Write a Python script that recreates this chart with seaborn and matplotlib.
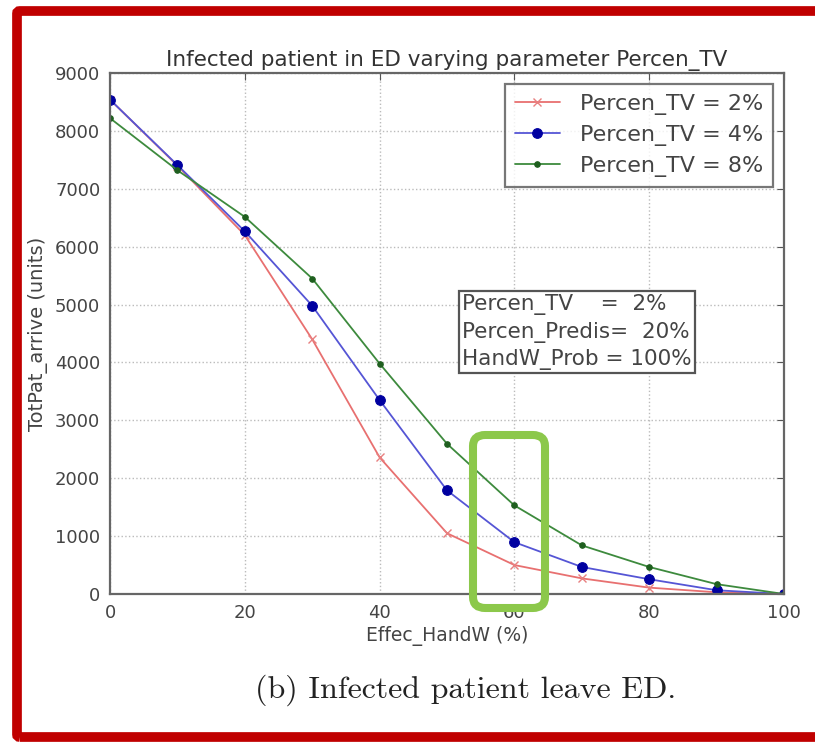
import numpy as np
import pandas as pd
import matplotlib
matplotlib.use("Agg")
import matplotlib.pyplot as plt
import seaborn as sns
from matplotlib.patches import FancyBboxPatch

effec_handw = [0, 10, 20, 30, 40, 50, 60, 70, 80, 90, 100]
tv_2 = [8540, 7400, 6200, 4400, 2360, 1050, 500, 270, 110, 30, 0]
tv_4 = [8540, 7410, 6265, 4980, 3350, 1790, 895, 467, 255, 65, 0]
tv_8 = [8220, 7320, 6515, 5450, 3980, 2595, 1530, 840, 467, 170, 0]
series_labels = ["Percen_TV = 2%", "Percen_TV = 4%", "Percen_TV = 8%"]

sns.set_style("white")
plt.rcParams["font.family"] = ["DejaVu Sans"]

fig = plt.figure(figsize=(8.15, 7.42), dpi=100)
ax = fig.add_axes([110 / 815, (742 - 594) / 742, 674 / 815, 521 / 742])

sns.lineplot(x=effec_handw, y=tv_2, ax=ax, color="#e87070", lw=1.3, marker="x",
             markersize=6, markeredgecolor="#e88080", markeredgewidth=1.0,
             label=series_labels[0])
sns.lineplot(x=effec_handw, y=tv_4, ax=ax, color="#5555d5", lw=1.3, marker="o",
             markersize=7, markerfacecolor="#0000a0", markeredgecolor="#0000a0",
             label=series_labels[1])
sns.lineplot(x=effec_handw, y=tv_8, ax=ax, color="#3d8a3d", lw=1.3, marker="o",
             markersize=4, markerfacecolor="#1f5f1f", markeredgecolor="#1f5f1f",
             label=series_labels[2])

ax.set_xlim(0, 100)
ax.set_ylim(0, 9000)
ax.set_xticks(range(0, 101, 20))
ax.set_yticks(range(0, 9001, 1000))
ax.tick_params(direction="in", length=5, top=True, right=True,
               labelsize=13, labelcolor="#444444", color="#555555", pad=7)
ax.grid(True, linestyle=":", color="#bbbbbb", lw=1)
for sp in ax.spines.values():
    sp.set_color("#666666")
    sp.set_linewidth(1.6)

ax.set_title("Infected patient in ED varying parameter Percen_TV",
             fontsize=15.5, color="#333333", pad=5)
ax.set_xlabel("Effec_HandW (%)", fontsize=13.5, color="#444444", labelpad=3)
ax.set_ylabel("TotPat_arrive (units)", fontsize=14, color="#444444", labelpad=5)

leg = ax.legend(loc="upper right", fontsize=16, frameon=True, fancybox=False,
                borderaxespad=0.5, handlelength=2.0, labelspacing=0.45,
                borderpad=0.45, handletextpad=0.9)
leg.get_frame().set_edgecolor("#555555")
leg.get_frame().set_linewidth(1.6)
for t in leg.get_texts():
    t.set_color("#444444")

ax.text(0.522, 0.575,
        "Percen_TV    =  2%\nPercen_Predis=  20%\nHandW_Prob = 100%",
        transform=ax.transAxes, fontsize=15.5, color="#444444", va="top",
        ha="left", linespacing=1.4,
        bbox=dict(facecolor="white", edgecolor="#555555", lw=1.6,
                  boxstyle="square,pad=0.15"))

fig.text(466 / 815, 1 - 690 / 742, "(b) Infected patient leave ED.",
         fontsize=23, family="cmr10", ha="center", va="center", color="#222222")

fig.patches.append(FancyBboxPatch((473 / 815, 134 / 742), 72 / 815, 173 / 742,
                                  boxstyle="round,pad=0,rounding_size=0.015",
                                  transform=fig.transFigure, fill=False,
                                  edgecolor="#8cc84b", lw=5.8, zorder=10))
fig.patches.append(FancyBboxPatch((17 / 815, 5 / 742), 1.1, 726 / 742,
                                  boxstyle="round,pad=0,rounding_size=0.0035",
                                  transform=fig.transFigure, fill=False,
                                  edgecolor="#c00000", lw=7, zorder=10))

fig.savefig("out.png", dpi=100)
